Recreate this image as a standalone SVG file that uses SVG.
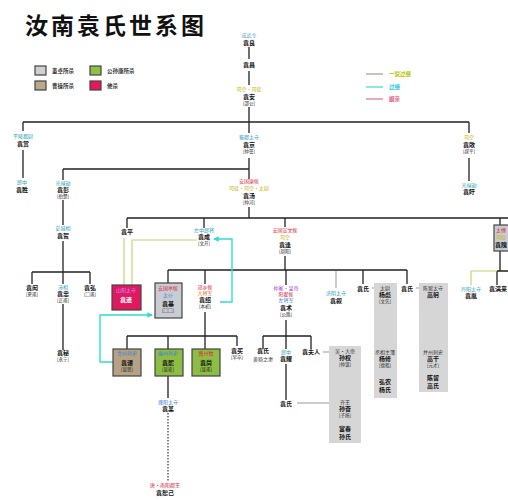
<svg xmlns="http://www.w3.org/2000/svg" width="508" height="500" viewBox="0 0 508 500">
<defs>
<marker id="arr" viewBox="0 0 6 6" refX="5" refY="3" markerWidth="4" markerHeight="4" orient="auto"><path d="M0,0 L6,3 L0,6 z" fill="#2ee0cc"/></marker>
<style>
text{font-family:"Noto Sans CJK SC","Noto Sans CJK TC",sans-serif;text-anchor:middle}
.ln{stroke:#222;stroke-width:1.3;fill:none}
.gl{stroke:#999;stroke-width:1;fill:none}
.ol{stroke:#c8d27a;stroke-width:1.2;fill:none}
.cy{stroke:#2ee0cc;stroke-width:1.4;fill:none}
.dt{stroke:#333;stroke-width:1.2;fill:none;stroke-dasharray:1.5 1.5}
.nm{font-size:6px;fill:#111;font-weight:bold}
.zi{font-size:4.5px;fill:#222}
.lb{font-size:5px}
.c{fill:#2aa3b8}.r{fill:#d8283c}.y{fill:#cbb200}.p{fill:#a040e0}.b{fill:#3a7fd8}.o{fill:#e07020}.w{fill:#fff}.v{fill:#c890ff}
.box{stroke:#444;stroke-width:1.2}
.gb{fill:#d6d6d6}
.lg{font-size:5.5px;text-anchor:start;fill:#333;font-weight:bold}
</style>
</defs>
<rect width="508" height="500" fill="#fff"/>
<text x="25" y="34" style="font-size:23px;font-weight:700;text-anchor:start;letter-spacing:3px;fill:#111">汝南袁氏世系图</text>

<g id="legend">
<rect x="35" y="66" width="11" height="9" class="box" fill="#d0d0d0"/><text x="52" y="73" class="lg">董卓所杀</text>
<rect x="90" y="66" width="11" height="9" class="box" fill="#8fc043"/><text x="107" y="73" class="lg">公孙康所杀</text>
<rect x="35" y="81" width="11" height="9" class="box" fill="#b9a88a"/><text x="52" y="88" class="lg">曹操所杀</text>
<rect x="90" y="81" width="11" height="9" class="box" fill="#e8175d"/><text x="107" y="88" class="lg">他杀</text>
<line x1="366" y1="74" x2="383" y2="74" stroke="#8a8a70" stroke-width="1"/><text x="389" y="76" class="lg" style="fill:#b8c000">一说过继</text>
<line x1="366" y1="87" x2="383" y2="87" stroke="#2ee0e0" stroke-width="1.2"/><text x="389" y="89" class="lg" style="fill:#2ec8e0">过继</text>
<line x1="366" y1="99" x2="383" y2="99" stroke="#e07090" stroke-width="1.2"/><text x="389" y="101" class="lg" style="fill:#e06080">姻亲</text>
</g>

<g id="connectors">
<path class="ln" d="M249,47V59 M249,71V85 M249,107V133 M23,122H469 M23,122V131 M469,122V133 M23,150V178 M249,158V179 M63,169H249 M63,169V180 M469,158V181 M63,200V225 M63,241V284 M32,272H90 M32,272V284 M90,272V284 M63,304V350 M249,207V218 M127,218H508 M127,218V228 M204,218V228 M285,218V227 M500,218V225 M285,256V270 M168,270H407 M168,270V283 M205,270V284 M286,270V285 M363,270V284 M407,270V284 M500,251V271 M497,271H508 M497,271V285 M205,312V336 M127,336H237 M127,336V349 M168,336V349 M205,336V349 M237,336V346 M168,376V398 M286,320V336 M263,336H311 M263,336V349 M286,336V349 M311,336V349 M286,364V400"/>
<path class="gl" d="M336,271V288 M372,288H378 M416,288H420 M323,352H330 M297,403H330 M385,309V350 M433,302V350 M345,370V398"/>
<path class="ol" d="M124,238V285 M197,240H132V285 M497,271H471V285"/>
<path class="dt" d="M168,413V481"/>
<path class="cy" d="M220,302H232V239H214" marker-end="url(#arr)"/>
<path class="cy" d="M113,362H100V315H152" marker-end="url(#arr)"/>
</g>

<g id="n-yuanliang"><text x="249" y="37" class="lb" style="fill:#5aa0d0">成武令</text><text x="249" y="45" class="nm">袁良</text></g>
<g id="n-yuanchang"><text x="249" y="67" class="nm">袁昌</text></g>
<g id="n-yuanan"><text x="249" y="91" class="lb y">司空·司徒</text><text x="249" y="99" class="nm">袁安</text><text x="249" y="105" class="zi">[邵公]</text></g>
<g id="n-yuanshang0"><text x="23" y="138" class="lb c">平陵都尉</text><text x="23" y="146" class="nm">袁赏</text></g>
<g id="n-yuanjing"><text x="249" y="139" class="lb c">蜀郡太守</text><text x="249" y="147" class="nm">袁京</text><text x="249" y="153" class="zi">[仲誉]</text></g>
<g id="n-yuanchang2"><text x="469" y="139" class="lb y">司空</text><text x="469" y="147" class="nm">袁敞</text><text x="469" y="153" class="zi">[叔平]</text></g>
<g id="n-yuansheng"><text x="22" y="184" class="lb c">郎中</text><text x="22" y="192" class="nm">袁胜</text></g>
<g id="n-yuanpeng"><text x="63" y="185" class="lb c">光禄勋</text><text x="63" y="192" class="nm">袁彭</text><text x="63" y="198" class="zi">[伯楚]</text></g>
<g id="n-yuantang"><text x="249" y="183" class="lb r">安国康侯</text><text x="249" y="190" class="lb y">司徒·司空·太尉</text><text x="249" y="198" class="nm">袁汤</text><text x="249" y="204" class="zi">[仲河]</text></g>
<g id="n-yuanxu"><text x="469" y="187" class="lb c">光禄勋</text><text x="469" y="194" class="nm">袁盱</text></g>
<g id="n-yuanhe"><text x="63" y="230" class="lb c">彭城相</text><text x="63" y="238" class="nm">袁贺</text></g>
<g id="n-yuanhong"><text x="32" y="290" class="nm">袁闳</text><text x="32" y="296" class="zi">[夏甫]</text></g>
<g id="n-yuanzhong"><text x="63" y="289" class="lb c">沛相</text><text x="63" y="296" class="nm">袁忠</text><text x="63" y="302" class="zi">[正甫]</text></g>
<g id="n-yuanhong2"><text x="90" y="290" class="nm">袁弘</text><text x="90" y="296" class="zi">[□甫]</text></g>
<g id="n-yuanmi"><text x="63" y="355" class="nm">袁秘</text><text x="63" y="361" class="zi">[永宁]</text></g>
<g id="n-yuanping"><text x="127" y="234" class="nm">袁平</text></g>
<g id="n-yuancheng"><text x="204" y="232" class="lb c">左中郎将</text><text x="204" y="239" class="nm">袁成</text><text x="204" y="245" class="zi">[文开]</text></g>
<g id="n-yuanfeng"><text x="285" y="232" class="lb r">安国宣文侯</text><text x="285" y="239" class="lb y">司空</text><text x="285" y="247" class="nm">袁逢</text><text x="285" y="253" class="zi">[周阳]</text></g>
<g id="n-yuanwei"><rect x="494" y="225" width="20" height="26" class="box" fill="#c9ccd3"/><text x="501" y="232" class="lb r">太傅</text><text x="501" y="239" class="lb y">司徒</text><text x="501" y="247" class="nm">袁隗</text></g>
<g id="n-yuanyi"><rect x="112" y="285" width="29" height="25" class="box" fill="#e0185f"/><text x="126" y="292" class="lb v">山阳太守</text><text x="126" y="302" class="nm w">袁遗</text></g>
<g id="n-yuanji"><rect x="155" y="283" width="27" height="35" class="box" fill="#c9ccd3"/><text x="168" y="290" class="lb r">安国亭侯</text><text x="168" y="297" class="lb b">太仆</text><text x="168" y="306" class="nm">袁基</text><text x="168" y="312" class="zi">[□□]</text></g>
<g id="n-yuanshao"><text x="205" y="289" class="lb r">邟乡侯</text><text x="205" y="295" class="lb o">大将军</text><text x="205" y="302" class="nm">袁绍</text><text x="205" y="308" class="zi">[本初]</text></g>
<g id="n-yuanshu"><text x="286" y="290" class="lb p">仲家·皇帝</text><text x="286" y="296" class="lb r">阳翟侯</text><text x="286" y="302" class="lb b">左将军</text><text x="286" y="310" class="nm">袁术</text><text x="286" y="316" class="zi">[公路]</text></g>
<g id="n-yuanxu2"><text x="336" y="295" class="lb c">济阴太守</text><text x="336" y="303" class="nm">袁叙</text></g>
<g id="n-yuanshi1"><text x="363" y="291" class="nm">袁氏</text></g>
<g id="n-yang"><rect x="374" y="283" width="23" height="115" class="gb"/><text x="385" y="290" class="lb" fill="#333">太尉</text><text x="385" y="297" class="nm">杨彪</text><text x="385" y="303" class="zi">[文先]</text><text x="385" y="354" class="lb" fill="#333">丞相主簿</text><text x="385" y="361" class="nm">杨修</text><text x="385" y="367" class="zi">[德祖]</text><text x="385" y="384" class="nm">弘农</text><text x="385" y="392" class="nm">杨氏</text></g>
<g id="n-yuanshi2"><text x="407" y="291" class="nm">袁氏</text></g>
<g id="n-gao"><rect x="419" y="283" width="29" height="109" class="gb"/><text x="433" y="290" class="lb" fill="#333">陈留太守</text><text x="433" y="297" class="nm">高躬</text><text x="433" y="354" class="lb" fill="#333">并州刺史</text><text x="433" y="361" class="nm">高干</text><text x="433" y="367" class="zi">[元才]</text><text x="433" y="380" class="nm">陈留</text><text x="433" y="388" class="nm">高氏</text></g>
<g id="n-yuanyin"><text x="471" y="291" class="lb c">丹阳太守</text><text x="471" y="298" class="nm">袁胤</text></g>
<g id="n-yuanmanlai"><text x="489" y="291" class="nm" style="text-anchor:start">袁满来</text></g>
<g id="n-yuantan"><rect x="113" y="349" width="28" height="27" class="box" fill="#b5a283"/><text x="127" y="355" class="lb b">青州刺史</text><text x="127" y="365" class="nm">袁谭</text><text x="127" y="371" class="zi">[显思]</text></g>
<g id="n-yuanxi"><rect x="155" y="349" width="28" height="27" class="box" fill="#8dbd45"/><text x="168" y="355" class="lb b">幽州刺史</text><text x="168" y="365" class="nm">袁熙</text><text x="168" y="371" class="zi">[显奕]</text></g>
<g id="n-yuanshang"><rect x="192" y="349" width="28" height="27" class="box" fill="#8dbd45"/><text x="206" y="355" class="lb r">冀州牧</text><text x="206" y="365" class="nm">袁尚</text><text x="206" y="371" class="zi">[显甫]</text></g>
<g id="n-yuanmai"><text x="237" y="353" class="nm">袁买</text><text x="237" y="359" class="zi">[早卒]</text></g>
<g id="n-xison"><text x="168" y="404" class="lb b">濮阳太守</text><text x="168" y="411" class="nm">袁某</text></g>
<g id="n-yuanshuji"><text x="165" y="487" class="lb r">唐·南阳郡王</text><text x="165" y="495" class="nm">袁恕己</text></g>
<g id="n-yuanshi3"><text x="263" y="353" class="nm">袁氏</text><text x="263" y="361" class="lb" fill="#333">黄猗之妻</text></g>
<g id="n-yuanyao"><text x="286" y="354" class="lb c">郎中</text><text x="286" y="361" class="nm">袁耀</text></g>
<g id="n-yuanfuren"><text x="311" y="354" class="nm">袁夫人</text></g>
<g id="n-yuanshi4"><text x="286" y="406" class="nm">袁氏</text></g>
<g id="n-sun"><rect x="329" y="346" width="32" height="97" class="gb"/><text x="345" y="353" class="lb" fill="#333">吴·大帝</text><text x="345" y="360" class="nm">孙权</text><text x="345" y="366" class="zi">[仲谋]</text><text x="345" y="404" class="lb" fill="#333">齐王</text><text x="345" y="411" class="nm">孙奋</text><text x="345" y="417" class="zi">[子扬]</text><text x="345" y="431" class="nm">富春</text><text x="345" y="439" class="nm">孙氏</text></g>
</svg>
